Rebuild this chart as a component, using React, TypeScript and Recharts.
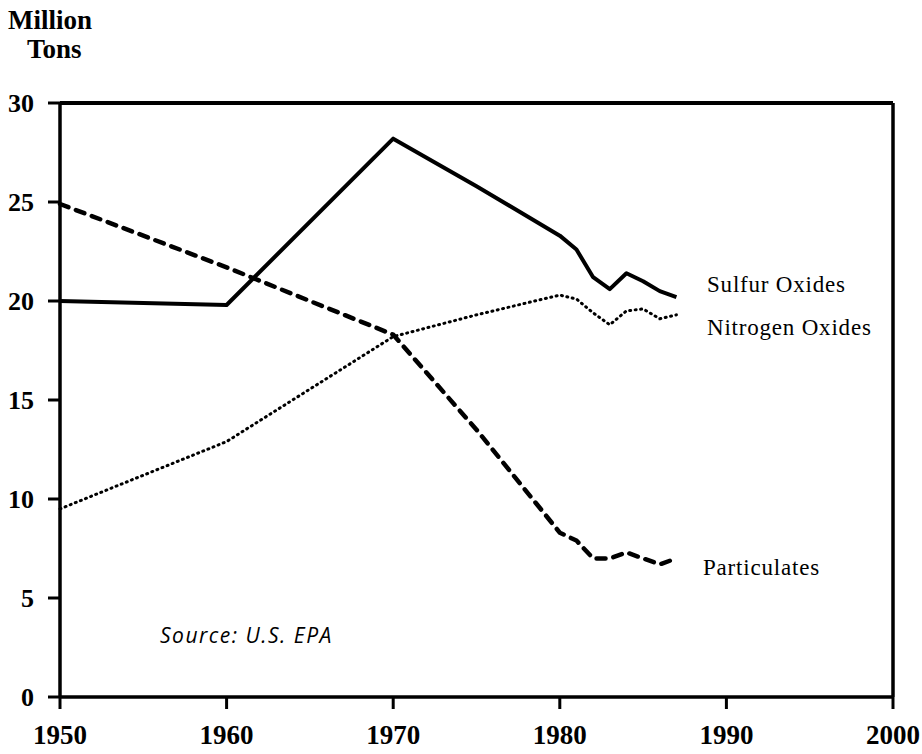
import { LineChart, Line, XAxis, YAxis, ReferenceLine } from 'recharts'

// Emissions, million tons
const years = [1950, 1960, 1970, 1975, 1980, 1981, 1982, 1983, 1984, 1985, 1986, 1987]
const sulfurOxides = [20.0, 19.8, 28.2, 25.8, 23.3, 22.6, 21.2, 20.6, 21.4, 21.0, 20.5, 20.2]
const nitrogenOxides = [9.5, 12.9, 18.2, 19.3, 20.3, 20.1, 19.4, 18.8, 19.5, 19.6, 19.1, 19.3]
const particulates = [24.9, 21.7, 18.3, 13.5, 8.3, 7.9, 7.0, 7.0, 7.3, 7.0, 6.7, 7.0]

const xTicks = [1950, 1960, 1970, 1980, 1990, 2000]
const yTicks = [0, 5, 10, 15, 20, 25, 30]

const data = years.map((year, i) => ({
  year,
  sulfur: sulfurOxides[i],
  nitrogen: nitrogenOxides[i],
  particulates: particulates[i],
}))

const SERIF = '"Liberation Serif", "DejaVu Serif", serif'

const labelStyle: React.CSSProperties = {
  position: 'absolute',
  fontFamily: SERIF,
  fontSize: 23,
  letterSpacing: 0.8,
  color: '#000',
  whiteSpace: 'nowrap',
  lineHeight: 1,
}

const titleStyle: React.CSSProperties = {
  position: 'absolute',
  fontFamily: SERIF,
  fontWeight: 'bold',
  fontSize: 27,
  lineHeight: 1,
  whiteSpace: 'nowrap',
}

export default function App() {
  return (
    <div style={{ position: 'absolute', left: 0, top: 0, width: 922, height: 754, background: '#fff' }}>
      <div style={{ ...titleStyle, left: 8, top: 7 }}>Million</div>
      <div style={{ ...titleStyle, left: 27, top: 36 }}>Tons</div>

      <LineChart width={922} height={754} data={data} margin={{ top: 103, right: 29, bottom: 0, left: 0 }}>
        <XAxis
          dataKey="year"
          type="number"
          domain={[1950, 2000]}
          ticks={xTicks}
          height={57}
          axisLine={{ stroke: '#000', strokeWidth: 3.5 }}
          tickLine={{ stroke: '#000', strokeWidth: 3 }}
          tickSize={12}
          tickMargin={16}
          tick={{ fill: '#000', fontSize: 27, fontFamily: SERIF, fontWeight: 'bold' }}
        />
        <YAxis
          type="number"
          domain={[0, 30]}
          ticks={yTicks}
          width={60}
          axisLine={{ stroke: '#000', strokeWidth: 3.5 }}
          tickLine={{ stroke: '#000', strokeWidth: 3 }}
          tickSize={12}
          tickMargin={14}
          tick={{ fill: '#000', fontSize: 26, fontFamily: SERIF, fontWeight: 'bold' }}
        />
        <ReferenceLine y={30} stroke="#000" strokeWidth={4} />
        <ReferenceLine x={2000} stroke="#000" strokeWidth={3.5} />
        <Line
          dataKey="sulfur"
          stroke="#000"
          strokeWidth={4}
          dot={false}
          type="linear"
          strokeLinejoin="round"
          isAnimationActive={false}
        />
        <Line
          dataKey="nitrogen"
          stroke="#000"
          strokeWidth={3}
          strokeDasharray="1 4.5"
          strokeLinecap="round"
          dot={false}
          type="linear"
          isAnimationActive={false}
        />
        <Line
          dataKey="particulates"
          stroke="#000"
          strokeWidth={4.5}
          strokeDasharray="9 8"
          strokeLinecap="round"
          dot={false}
          type="linear"
          isAnimationActive={false}
        />
      </LineChart>

      <div style={{ ...labelStyle, left: 707, top: 273 }}>Sulfur Oxides</div>
      <div style={{ ...labelStyle, left: 707, top: 316 }}>Nitrogen Oxides</div>
      <div style={{ ...labelStyle, left: 703, top: 556 }}>Particulates</div>
      <div
        style={{
          position: 'absolute',
          left: 160,
          top: 625,
          fontFamily: '"Open Sans", "Liberation Sans", sans-serif',
          fontStyle: 'italic',
          fontSize: 21,
          letterSpacing: 1.5,
          lineHeight: 1,
        }}
      >
        Source: U.S. EPA
      </div>
    </div>
  )
}
